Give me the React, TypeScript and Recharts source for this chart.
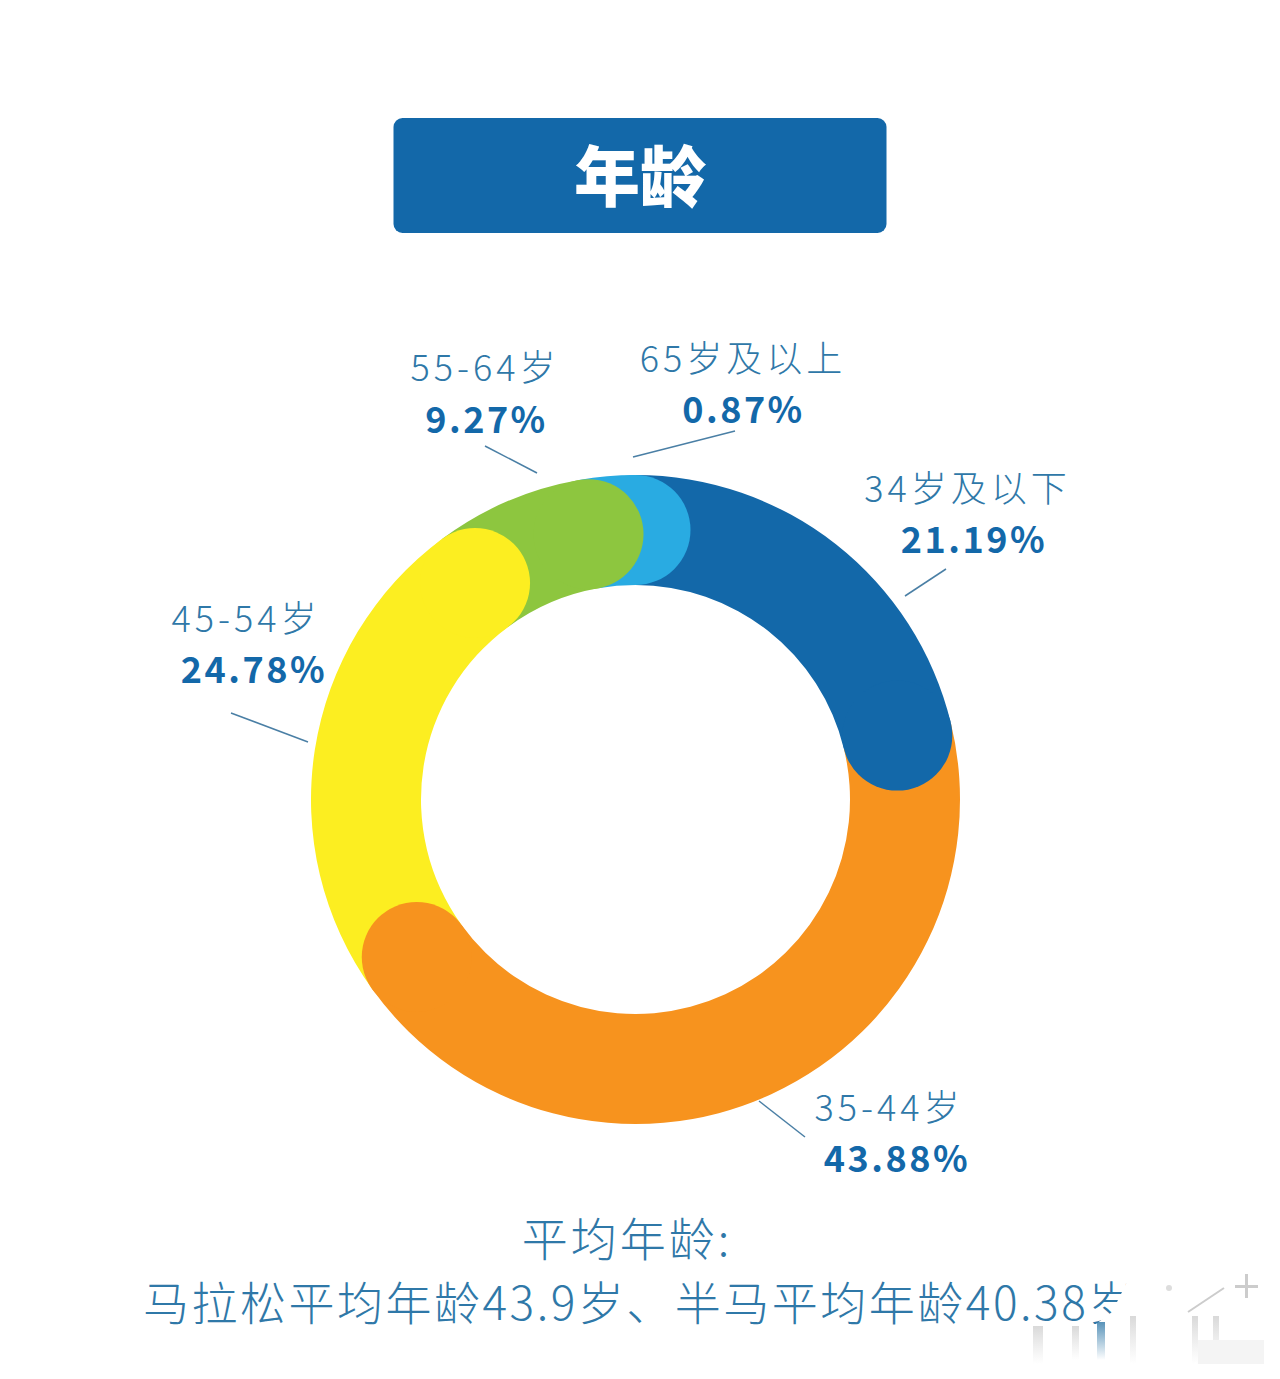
import React from 'react';
import { PieChart, Pie, Cell } from 'recharts';

const WIDTH = 1280;
const HEIGHT = 1379;
const CX = 635.5;
const CY = 799.5;
const INNER = 214.5;
const OUTER = 324.5;

const FONT = '"Noto Sans CJK SC", "Noto Sans", sans-serif';
const BLUE = '#1368A9';
const LABEL_BLUE = '#2F78A8';

// clockwise from the top: 34岁及以下, 35-44岁, 45-54岁, 55-64岁, 65岁及以上
const ageGroups = ['34岁及以下', '35-44岁', '45-54岁', '55-64岁', '65岁及以上'];
const printedPercents = ['21.19%', '43.88%', '24.78%', '9.27%', '0.87%'];
// shares as drawn: the last two arcs in the picture don't follow their printed numbers
const arcShares = [21.19, 43.88, 24.78, 7.36, 2.79];
const sliceColors = ['#1368A9', '#F7931E', '#FCEE21', '#8DC63F', '#29ABE2'];

// reversed so each round cap paints over the slice that follows it clockwise
const pieData = ageGroups
  .map((name, i) => ({ name, value: arcShares[i], color: sliceColors[i] }))
  .reverse();

const labelSpots = [
  { x: 967.5, px: 974, y1: 502, y2: 553, line: [946, 569, 905, 596] },
  { x: 889, px: 897, y1: 1121, y2: 1172, line: [805, 1137, 759, 1101] },
  { x: 246, px: 254, y1: 632, y2: 683, line: [231, 713, 308, 742] },
  { x: 485, px: 486.5, y1: 381, y2: 433, line: [485, 446, 537, 473] },
  { x: 743, px: 743.5, y1: 372, y2: 423, line: [735, 431, 633, 457] },
];

const RoundCap = (props: any) => {
  const { cx, cy, startAngle, innerRadius, outerRadius, fill } = props;
  const rad = (startAngle * Math.PI) / 180;
  const mid = (innerRadius + outerRadius) / 2;
  return (
    <circle
      cx={cx + mid * Math.cos(rad)}
      cy={cy - mid * Math.sin(rad)}
      r={(outerRadius - innerRadius) / 2}
      fill={fill}
    />
  );
};

export default function App() {
  return (
    <div style={{ position: 'absolute', left: 0, top: 0, width: WIDTH, height: HEIGHT, background: '#fff' }}>
      <PieChart width={WIDTH} height={HEIGHT} margin={{ top: 0, right: 0, bottom: 0, left: 0 }}>
        <defs>
          <linearGradient id="markFade" x1="0" y1="0" x2="0" y2="1">
            <stop offset="0" stopColor="#aaa" stopOpacity={0.45} />
            <stop offset="1" stopColor="#bbb" stopOpacity={0} />
          </linearGradient>
          <linearGradient id="markBlue" x1="0" y1="0" x2="0" y2="1">
            <stop offset="0" stopColor="#2F78A8" stopOpacity={0.8} />
            <stop offset="1" stopColor="#2F78A8" stopOpacity={0} />
          </linearGradient>
        </defs>

        <rect x={393.5} y={118} width={493} height={115} rx={9} fill={BLUE} />
        <text x={640} y={201} textAnchor="middle" fontFamily={FONT} fontWeight={900} fontSize={66} fill="#fff">
          年龄
        </text>

        <Pie
          data={pieData}
          dataKey="value"
          cx={CX}
          cy={CY}
          innerRadius={INNER}
          outerRadius={OUTER}
          startAngle={90}
          endAngle={450}
          stroke="none"
          isAnimationActive={false}
        >
          {pieData.map((d) => (
            <Cell key={d.name} fill={d.color} />
          ))}
        </Pie>
        <Pie
          data={pieData}
          dataKey="value"
          cx={CX}
          cy={CY}
          innerRadius={INNER}
          outerRadius={OUTER}
          startAngle={90}
          endAngle={450}
          stroke="none"
          shape={RoundCap}
          isAnimationActive={false}
        >
          {pieData.map((d) => (
            <Cell key={d.name} fill={d.color} />
          ))}
        </Pie>

        {ageGroups.map((name, i) => {
          const spot = labelSpots[i];
          return (
            <g key={name}>
              <text x={spot.x} y={spot.y1} textAnchor="middle" fontFamily={FONT} fontWeight={300} fontSize={36} letterSpacing={4} fill={LABEL_BLUE}>
                {name}
              </text>
              <text x={spot.px} y={spot.y2} textAnchor="middle" fontFamily={FONT} fontWeight={700} fontSize={36} letterSpacing={2.5} fill={BLUE}>
                {printedPercents[i]}
              </text>
              <line x1={spot.line[0]} y1={spot.line[1]} x2={spot.line[2]} y2={spot.line[3]} stroke="#4A7FA5" strokeWidth={1.5} />
            </g>
          );
        })}

        <text x={627} y={1256} textAnchor="middle" fontFamily={FONT} fontWeight={300} fontSize={46} letterSpacing={3} fill={LABEL_BLUE}>
          平均年龄:
        </text>
        <text x={143} y={1320} fontFamily={FONT} fontWeight={300} fontSize={46} letterSpacing={2.5} fill={LABEL_BLUE}>
          马拉松平均年龄43.9岁、半马平均年龄40.38岁
        </text>

        {/* watermark over the end of the footer */}
        <polygon points="1133,1270 1280,1270 1280,1379 1030,1379 1030,1324 1096,1324 1112,1312" fill="#fff" />
        <rect x={1033} y={1326} width={10} height={38} fill="url(#markFade)" />
        <rect x={1072} y={1326} width={7} height={34} fill="url(#markFade)" />
        <rect x={1097} y={1322} width={8} height={38} fill="url(#markBlue)" />
        <rect x={1130} y={1316} width={6} height={48} fill="url(#markFade)" />
        <rect x={1192} y={1316} width={6} height={48} fill="url(#markFade)" />
        <rect x={1213} y={1316} width={6} height={48} fill="url(#markFade)" />
        <rect x={1198} y={1340} width={66} height={24} fill="#f4f4f4" />
        <line x1={1188} y1={1312} x2={1224} y2={1288} stroke="#ccc" strokeWidth={2} />
        <circle cx={1169} cy={1288} r={3} fill="#ddd" />
        <rect x={1245} y={1274} width={3} height={24} fill="#ccc" />
        <rect x={1235} y={1285} width={23} height={3} fill="#ccc" />
      </PieChart>
    </div>
  );
}
